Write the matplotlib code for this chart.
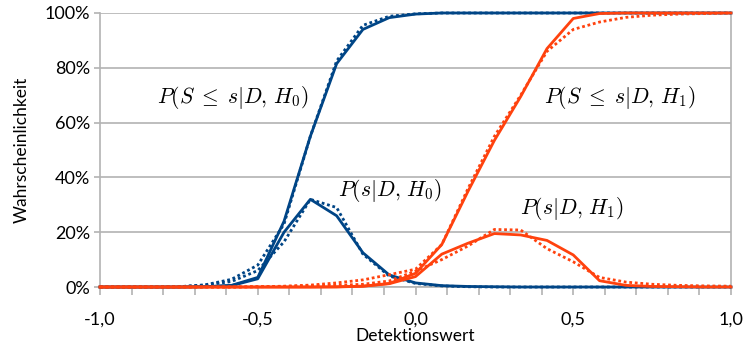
import matplotlib
matplotlib.use("Agg")
import matplotlib.pyplot as plt
from matplotlib.ticker import MultipleLocator, FuncFormatter

plt.rcParams['font.family'] = ['Lato', 'DejaVu Sans']
plt.rcParams['mathtext.fontset'] = 'cm'

# detection value grid (steps of 1/12)
x = [-1.0, -0.9167, -0.8333, -0.75, -0.6667, -0.5833, -0.5, -0.4167, -0.3333,
     -0.25, -0.1667, -0.0833, 0.0, 0.0833, 0.1667, 0.25, 0.3333, 0.4167, 0.5,
     0.5833, 0.6667, 0.75, 0.8333, 0.9167, 1.0]

# values in percent
pdf_h0 = [0, 0, 0, 0, 0.1, 0.5, 3, 20, 32, 26, 12.5, 4.4, 1.5, 0.5, 0.2, 0.1,
          0, 0, 0, 0, 0, 0, 0, 0, 0]
pdf_h0_dot = [0, 0, 0, 0.1, 0.7, 2, 6, 16.5, 32, 29, 12, 4, 1.3, 0.4, 0.1, 0,
              0, 0, 0, 0, 0, 0, 0, 0, 0]
cdf_h0 = [0, 0, 0, 0, 0.1, 0.6, 3.5, 24, 55, 81.5, 94, 98.3, 99.6, 100, 100,
          100, 100, 100, 100, 100, 100, 100, 100, 100, 100]
cdf_h0_dot = [0, 0, 0, 0.1, 0.8, 2.8, 8, 23, 55, 82.5, 95.5, 98.8, 99.7, 100,
              100, 100, 100, 100, 100, 100, 100, 100, 100, 100, 100]

pdf_h1 = [0, 0, 0, 0, 0, 0, 0, 0, 0, 0.1, 0.3, 1.2, 3.8, 12, 16, 19.5, 19, 17,
          11.7, 2.3, 0.6, 0.2, 0.1, 0, 0]
pdf_h1_dot = [0, 0, 0, 0, 0, 0, 0.1, 0.2, 0.4, 0.6, 1.0, 2.2, 5.8, 10, 15, 21,
              20.8, 14, 9.2, 3.5, 1.8, 1.0, 0.6, 0.4, 0.3]
cdf_h1 = [0, 0, 0, 0, 0, 0, 0, 0, 0, 0, 0.3, 1.3, 5, 15.5, 35, 53.5, 69.5, 87,
          98, 99.8, 100, 100, 100, 100, 100]
cdf_h1_dot = [0, 0, 0, 0, 0, 0, 0.1, 0.3, 0.7, 1.5, 2.6, 4.5, 6.5, 15.5, 36,
              55, 70, 86, 94, 96.7, 98.4, 99.2, 99.6, 99.8, 100]

blue = '#004586'
red = '#ff420e'
grey = '#b3b3b3'

fig = plt.figure(figsize=(7.48, 3.51), dpi=100)
ax = fig.add_axes([0.1337, 0.1823, 0.8436, 0.7807])

lw = 2.0
dot = (0, (1, 1))
ax.plot(x, cdf_h0, color=blue, lw=lw, clip_on=False, zorder=3)
ax.plot(x, cdf_h0_dot, color=blue, lw=lw, ls=dot, clip_on=False, zorder=3)
ax.plot(x, pdf_h0, color=blue, lw=lw, clip_on=False, zorder=3)
ax.plot(x, pdf_h0_dot, color=blue, lw=lw, ls=dot, clip_on=False, zorder=3)
ax.plot(x, cdf_h1, color=red, lw=lw, clip_on=False, zorder=3)
ax.plot(x, cdf_h1_dot, color=red, lw=lw, ls=dot, clip_on=False, zorder=3)
ax.plot(x, pdf_h1, color=red, lw=lw, clip_on=False, zorder=3)
ax.plot(x, pdf_h1_dot, color=red, lw=lw, ls=dot, clip_on=False, zorder=3)

ax.set_xlim(-1, 1)
ax.set_ylim(0, 100)
ax.xaxis.set_major_locator(MultipleLocator(0.5))
ax.xaxis.set_minor_locator(MultipleLocator(0.1))
ax.yaxis.set_major_locator(MultipleLocator(20))
ax.xaxis.set_major_formatter(FuncFormatter(lambda v, p: ('%.1f' % v).replace('.', ',')))
ax.yaxis.set_major_formatter(FuncFormatter(lambda v, p: '%d%%' % v))

ax.grid(axis='y', color=grey, lw=1.2, zorder=0)
ax.set_axisbelow(True)
for s in ['left', 'bottom', 'right']:
    ax.spines[s].set_color(grey)
    ax.spines[s].set_linewidth(1.2)
ax.spines['top'].set_visible(False)
ax.tick_params(axis='both', which='both', color=grey, width=1.2, labelsize=13)
ax.tick_params(axis='x', which='both', length=6, pad=12)
ax.tick_params(axis='y', length=4, pad=3)

ax.set_xlabel('Detektionswert', fontsize=12.5, labelpad=0)
ax.set_ylabel('Wahrscheinlichkeit', fontsize=12.5, labelpad=11)

fs = 15.5
ax.text(-0.578, 69.3, r'$P(S\;\leq\;s|D,\,H_0)$', fontsize=fs, ha='center', va='center')
ax.text(0.648, 69.3, r'$P(S\;\leq\;s|D,\,H_1)$', fontsize=fs, ha='center', va='center')
ax.text(-0.081, 35.4, r'$P(s|D,\,H_0)$', fontsize=fs, ha='center', va='center')
ax.text(0.496, 28.5, r'$P(s|D,\,H_1)$', fontsize=fs, ha='center', va='center')

fig.savefig('out.png', dpi=100)
